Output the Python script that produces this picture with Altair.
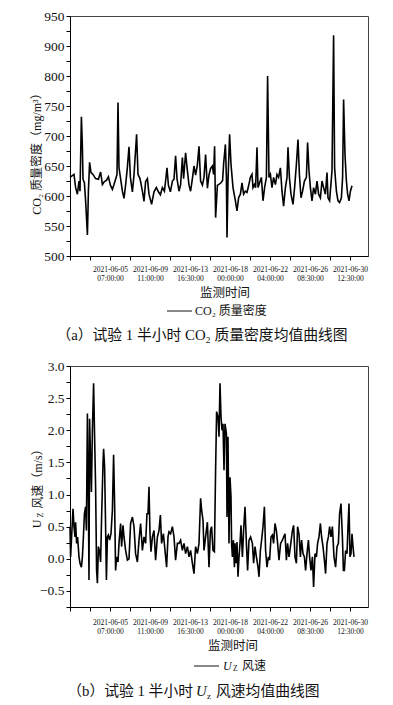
import altair as alt
import pandas as pd

# ---------------- data (half-hour sample index, value) ----------------
co2_idx = [0, 8, 20, 28, 37, 45, 50, 57, 62, 65,
           72, 78, 87, 92, 98, 105, 115, 128, 142, 153,
           162, 172, 182, 192, 202, 212, 220, 228, 235, 240,
           245, 253, 262, 270, 278, 287, 295, 302, 312, 320,
           333, 340, 350, 362, 370, 378, 387, 395, 408, 420,
           432, 442, 452, 462, 472, 478, 485, 492, 502, 512,
           520, 528, 535, 545, 553, 562, 568, 578, 587, 595,
           603, 612, 620, 628, 637, 645, 653, 662, 670, 678,
           687, 695, 703, 712, 718, 723, 728, 737,
           743, 755, 763, 768, 777, 782, 785, 790, 798, 805,
           815, 827, 835, 843, 852, 860, 868, 877, 885, 893,
           902, 910, 915, 922, 928, 935, 940, 948, 957, 965,
           973, 982, 988, 995, 1002, 1010, 1018, 1027, 1035, 1043,
           1052, 1060, 1068, 1077, 1085, 1090, 1097, 1105, 1115, 1123,
           1132, 1140, 1147, 1155, 1163, 1172, 1182, 1188, 1195, 1202,
           1210, 1218, 1227, 1235, 1243, 1252, 1260, 1268, 1277, 1285,
           1290, 1298, 1310, 1318, 1323, 1332, 1340, 1348, 1357, 1363,
           1368, 1375, 1382, 1388, 1395, 1402, 1410]
co2_val = [631, 633, 636, 614, 603, 625, 608, 732, 681, 628,
           622, 592, 535, 608, 656, 639, 636, 629, 628, 640,
           619, 624, 626, 632, 618, 611, 619, 628, 636, 756,
           647, 629, 608, 596, 618, 648, 682, 631, 607, 635,
           703, 636, 629, 608, 591, 624, 629, 603, 586, 607,
           614, 607, 602, 614, 608, 625, 647, 618, 607, 625,
           628, 667, 629, 608, 619, 664, 629, 672, 642, 618,
           608, 629, 650, 635, 652, 683, 625, 618, 631, 669,
           613, 635, 646, 650, 636, 683, 564, 618,
           619, 622, 626, 653, 686, 631, 531, 625, 703, 653,
           614, 592, 575, 597, 603, 622, 603, 608, 606, 617,
           631, 636, 614, 619, 614, 681, 614, 622, 631, 592,
           614, 631, 800, 631, 636, 614, 631, 619, 636, 631,
           647, 608, 583, 614, 631, 681, 631, 603, 586, 614,
           653, 694, 636, 597, 608, 625, 631, 689, 642, 614,
           592, 614, 603, 625, 603, 597, 625, 614, 603, 639,
           597, 592, 642, 918, 647, 608, 592, 589, 597, 631,
           761, 669, 625, 603, 592, 608, 617]

uz_idx = [0, 3, 8, 15, 20, 25, 28, 33, 38, 45,
          50, 57, 62, 67, 72, 78, 82, 87, 92, 95,
          98, 102, 107, 112, 118, 123, 128, 133, 137, 142,
          148, 153, 158, 165, 168, 173, 178, 182, 187, 192,
          198, 205, 212, 218, 223, 228, 233, 240, 245, 253,
          258, 265, 270, 278, 287, 295, 303, 312, 320, 328,
          337, 345, 353, 362, 370, 378, 385, 390, 395, 400,
          405, 412, 420, 428, 437, 445, 452, 458, 467, 475,
          483, 490, 495, 503, 512, 520, 528, 537, 545, 553,
          562, 570, 578, 587, 595, 603, 612, 620, 628, 637,
          645, 653, 658, 665, 670, 678, 687, 695, 702, 708,
          715, 722, 728, 733, 740,
          745, 750, 755, 760, 765, 770, 775, 782, 785, 790,
          795, 800, 805, 808, 812, 817, 822, 825, 830, 835,
          840, 845, 850, 855, 862, 868, 875, 882, 888, 895,
          903, 912, 918, 925, 932, 940, 945, 952, 958, 965,
          972, 978, 985, 992, 998, 1005, 1012, 1018, 1025, 1032,
          1038, 1045, 1053, 1062, 1068, 1075, 1082, 1088, 1095, 1102,
          1112, 1118, 1125, 1132, 1138, 1145, 1152, 1158, 1165, 1172,
          1178, 1185, 1192, 1198, 1205, 1212, 1218, 1225, 1232, 1238,
          1245, 1252, 1258, 1265, 1272, 1278, 1285, 1292, 1298, 1305,
          1312, 1320, 1328, 1335, 1342, 1348, 1355, 1362, 1367, 1372,
          1378, 1385, 1390, 1395, 1400, 1405, 1410, 1415, 1420]
uz_val = [0.50, 0.03, 0.34, 0.78, 0.50, 0.34, 0.57, 0.24, 0.34, 0.03,
          -0.07, -0.13, 0.03, 0.34, 0.70, 0.81, 0.44, 2.26, 0.86, -0.33,
          2.18, 1.64, 1.04, 2.00, 2.73, 1.90, 1.12, -0.18, -0.38, 0.19,
          0.11, -0.05, 0.65, 1.48, 1.71, 1.43, 0.50, -0.33, 0.34, 0.37,
          0.29, 0.39, 0.76, 1.62, 0.86, -0.18, 0.03, -0.05, 0.24, 0.55,
          0.19, 0.52, 0.34, 0.13, -0.02, 0.00, 0.55, 0.65, 0.50, 0.08,
          -0.05, 0.29, 0.55, 0.13, 0.34, 0.24, 0.70, 0.70, 1.12, 0.39,
          0.11, 0.34, 0.44, -0.02, 0.34, 0.44, 0.68, 0.24, 0.39, 0.13,
          -0.13, 0.34, 0.42, 0.39, 0.50, 0.34, -0.02, 0.24, 0.24, 0.29,
          0.13, 0.24, 0.08, 0.19, 0.03, 0.13, -0.07, -0.23, 0.19, 0.08,
          0.24, 0.94, 0.76, 0.60, 0.13, 0.34, 0.57, -0.13, 0.44, 0.50,
          0.13, 0.11, 1.38, 2.29, 2.21,
          1.90, 2.73, 2.21, 2.00, 2.10, 1.38, 2.10, 1.95, 0.65, 1.90,
          0.24, 1.27, 0.96, 0.24, 0.03, 0.29, -0.13, 0.24, -0.07, 0.26,
          -0.28, 0.03, 0.24, 0.52, 0.03, 0.44, 0.81, 0.24, -0.18, 0.29,
          0.34, 0.24, -0.07, 0.19, 0.03, -0.13, -0.28, 0.13, 0.29, 0.50,
          0.81, 0.13, -0.13, 0.03, -0.02, 0.34, 0.37, 0.24, 0.55, 0.44,
          0.24, -0.02, 0.24, 0.29, 0.34, 0.39, -0.02, 0.24, 0.03, 0.19,
          0.44, 0.52, 0.03, -0.07, 0.50, 0.39, 0.03, 0.29, 0.08, 0.03,
          -0.18, 0.08, 0.29, 0.03, -0.18, 0.03, -0.44, 0.08, 0.03, 0.24,
          0.34, 0.55, 0.34, 0.19, -0.02, -0.23, 0.24, 0.34, 0.50, 0.34,
          0.50, 0.03, -0.13, 0.19, 0.24, 0.70, 0.86, 0.34, -0.18, -0.18,
          0.13, 0.08, 0.50, 0.86, 0.03, 0.08, 0.39, 0.19, 0.03]

assert len(co2_idx) == len(co2_val)
assert len(uz_idx) == len(uz_val)

tick_pos = [200, 400, 600, 800, 1000, 1200, 1400]
tick_dates = ["2021-06-05", "2021-06-09", "2021-06-13", "2021-06-18",
              "2021-06-22", "2021-06-26", "2021-06-30"]
tick_times = ["07:00:00", "11:00:00", "16:30:00", "00:00:00",
              "04:00:00", "08:30:00", "12:30:00"]

co2_ylabels = [500, 550, 600, 650, 700, 750, 800, 900, 950]
co2_yticks = [500, 525, 550, 575, 600, 625, 650, 675, 700, 725, 750, 775,
              800, 850, 900, 925, 950]
uz_yticks = [-0.75, -0.5, -0.25, 0.0, 0.25, 0.5, 0.75, 1.0, 1.25, 1.5,
             1.75, 2.0, 2.25, 2.5, 2.75, 3.0]

# ---------------- styling ----------------
SERIF = "'Liberation Serif', 'Noto Sans CJK SC'"
INK = "#111111"
W = 298
H1 = 240
H2 = 241

co2_df = pd.DataFrame({"idx": co2_idx, "val": co2_val})
uz_df = pd.DataFrame({"idx": uz_idx, "val": uz_val})
dummy = pd.DataFrame({"k": [0]})


def xlabel_expr():
    s = ""
    for p, d, t in zip(tick_pos, tick_dates, tick_times):
        s += f"datum.value == {p} ? ['{d}', '{t}'] : "
    return s + "''"


def x_axis(pad):
    return alt.Axis(values=list(range(0, 1500, 100)), labelExpr=xlabel_expr(),
                    title=None, labelFont=SERIF, labelFontSize=7.5,
                    labelLineHeight=9.5, labelColor=INK, tickSize=4,
                    tickColor="black", domainColor="black", labelAngle=0,
                    labelOverlap=False, grid=False, labelPadding=pad,
                    labelBaseline="top")


def txt(text, x, y, size=12, align="center", style="normal", angle=0):
    props = dict(text=text, align=align, baseline="middle", fontSize=size,
                 font=SERIF, color=INK, fontStyle=style)
    if angle:
        props["angle"] = angle
    return alt.Chart(dummy).mark_text(**props).encode(
        x=alt.value(x), y=alt.value(y))


def rule(x1, x2, y):
    return alt.Chart(dummy).mark_rule(color=INK, strokeWidth=1).encode(
        x=alt.value(x1), x2=alt.value(x2), y=alt.value(y))


label_list = "[" + ",".join(str(v) for v in co2_ylabels) + "]"

top_line = alt.Chart(co2_df).mark_line(color="black", strokeWidth=1.6).encode(
    x=alt.X("idx:Q", scale=alt.Scale(domain=[0, 1490], nice=False, zero=False),
            axis=x_axis(5)),
    y=alt.Y("val:Q",
            scale=alt.Scale(domain=[500, 800, 900, 950], range=[H1, 60, 30, 0],
                            nice=False, zero=False),
            axis=alt.Axis(values=co2_yticks, title=None,
                          labelExpr=f"indexof({label_list}, datum.value) >= 0 ? datum.label : ''",
                          labelFont=SERIF, labelFontSize=13.5, labelColor=INK,
                          tickSize=4, tickColor="black", domainColor="black",
                          grid=False, labelPadding=2)),
)

top = alt.layer(
    top_line,
    txt("CO₂ 质量密度（mg/m³）", -33, 135, size=12, angle=270),
    txt("监测时间", 155, 277, size=12.5),
    rule(97, 122, 295),
    txt("CO₂ 质量密度", 125, 295, size=12, align="left"),
    txt("（a）试验 1 半小时 CO₂ 质量密度均值曲线图", 132, 320, size=14.8),
).properties(width=W, height=H1)

bottom_line = alt.Chart(uz_df).mark_line(color="black", strokeWidth=1.6).encode(
    x=alt.X("idx:Q", scale=alt.Scale(domain=[0, 1490], nice=False, zero=False),
            axis=x_axis(7)),
    y=alt.Y("val:Q", scale=alt.Scale(domain=[-0.75, 3.0], nice=False, zero=False),
            axis=alt.Axis(values=uz_yticks, title=None, format=".1f",
                          labelExpr="abs(datum.value * 2 - round(datum.value * 2)) < 0.001 ? datum.label : ''",
                          labelFont=SERIF, labelFontSize=13.5, labelColor=INK,
                          tickSize=4, tickColor="black", domainColor="black",
                          grid=False, labelPadding=2)),
)

bottom = alt.layer(
    bottom_line,
    txt("风速（m/s）", -32, 110, size=12, angle=270),
    txt("U", -33, 158, size=12, angle=270),
    txt("Z", -29, 149, size=8, angle=270),
    txt("监测时间", 163, 280, size=12.5),
    rule(124, 149, 300),
    txt("U", 153, 300, size=12, align="left", style="italic"),
    txt("Z", 163, 303, size=7.5, align="left"),
    txt("风速", 172, 300, size=12, align="left"),
    txt("（b）试验 1 半小时", 123, 326, size=14.8, align="right"),
    txt("U", 126, 326, size=14.8, align="left", style="italic"),
    txt("z", 137, 330, size=9, align="left"),
    txt("风速均值曲线图", 146, 326, size=14.8, align="left"),
).properties(width=W, height=H2)

chart = alt.vconcat(top, bottom, spacing=14).properties(
    padding={"left": 22, "top": 0, "right": 0, "bottom": 0}
).configure_view(stroke="#444444", strokeWidth=1)

chart.save("out.html", embed_options={"renderer": "svg", "actions": False})
